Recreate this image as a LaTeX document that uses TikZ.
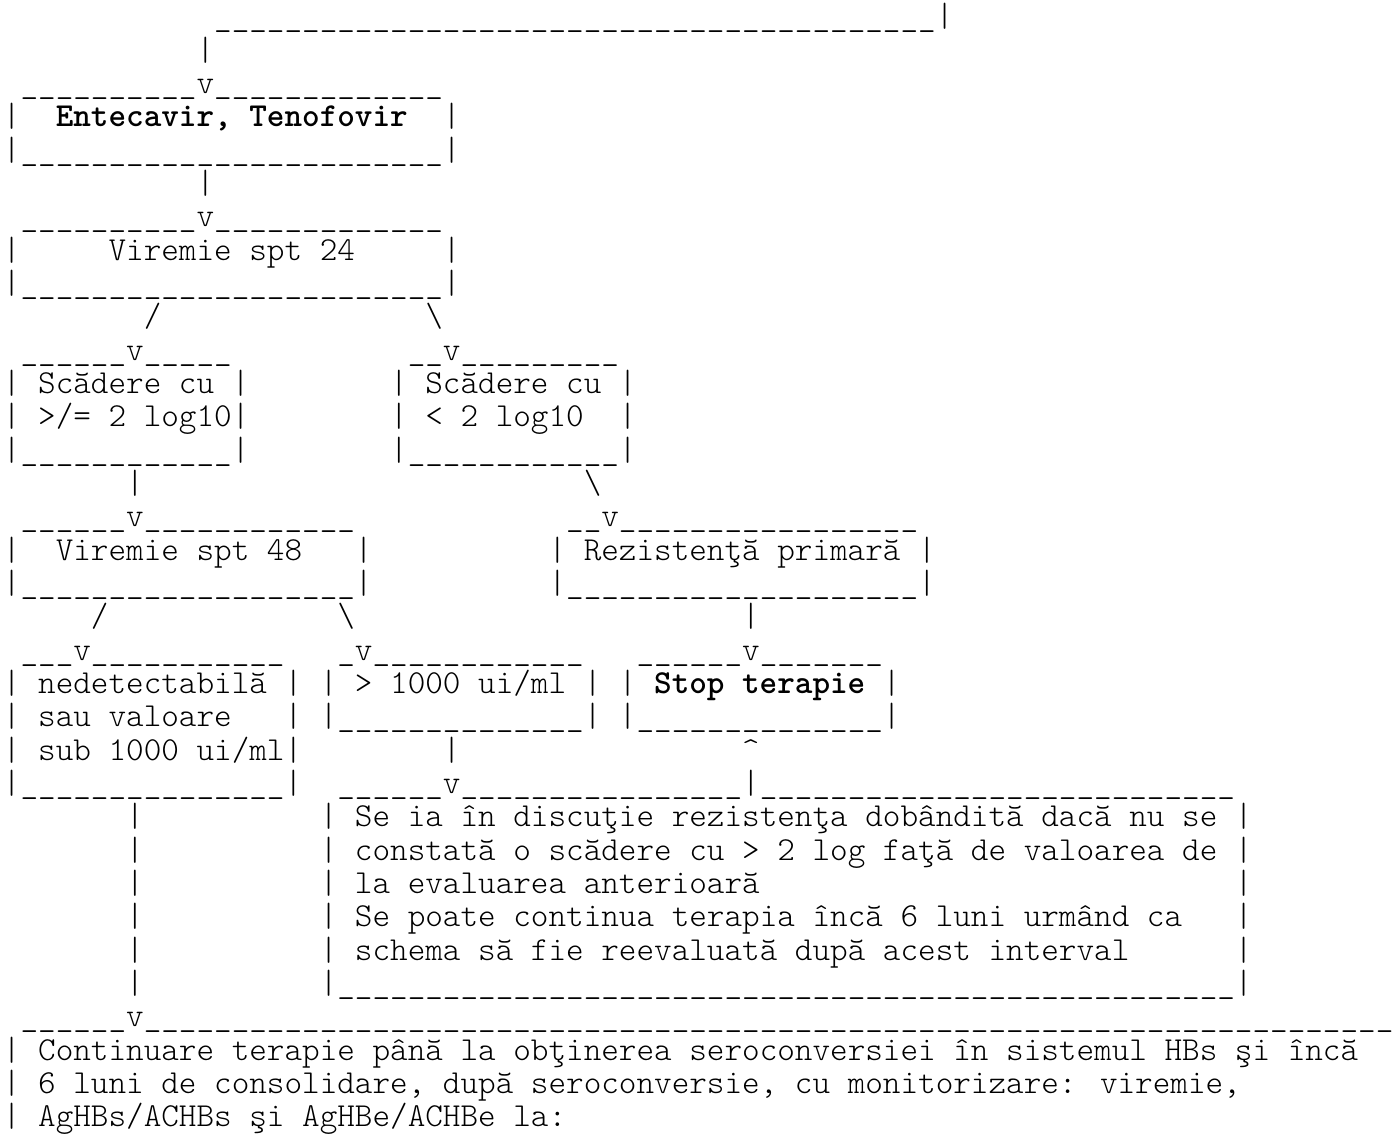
\documentclass[tikz,border=0pt]{standalone}
\usepackage{fontspec}
\newfontfamily\asciifont{lmmonolt10-regular.otf}[BoldFont=lmmonolt10-bold.otf]
\newcommand\sk[1]{\foreach\cnt in {1,...,#1}{\ }}
\newcommand\us[1]{\foreach\cnt in {1,...,#1}{\_}}
\tikzset{row/.style={anchor=base west,inner sep=0pt,outer sep=0pt,font=\asciifont\fontsize{16.762pt}{20pt}\selectfont}}

\begin{document}
\begin{tikzpicture}[x=8.8pt,y=-16.6667pt]
\fill[white] (-0.17,0.19) rectangle (79.32,34.21);
\useasboundingbox (-0.17,0.19) rectangle (79.32,34.21);
\node[row] (r0) at (0,0) {\sk{37}|\sk{30}|};
\node[row] (r1) at (0,1) {\sk{12}\us{41}|};
\node[row] (r2) at (0,2) {\sk{11}|};
\node[row] (r3) at (0,3) {\sk{1}\us{10}v\us{13}};
\node[row] (r4) at (0,4) {|\sk{2}\textbf{Entecavir, Tenofovir}\sk{2}|};
\node[row] (r5) at (0,5) {|\us{24}|};
\node[row] (r6) at (0,6) {\sk{11}|};
\node[row] (r7) at (0,7) {\sk{1}\us{10}v\us{13}};
\node[row] (r8) at (0,8) {|\sk{5}Viremie spt 24\sk{5}|};
\node[row] (r9) at (0,9) {|\us{24}|};
\node[row] (r10) at (0,10) {\sk{8}/\sk{15}\textbackslash};
\node[row] (r11) at (0,11) {\sk{1}\us{6}v\us{5}\sk{10}\us{2}v\us{9}};
\node[row] (r12) at (0,12) {| Scădere cu |\sk{8}| Scădere cu |};
\node[row] (r13) at (0,13) {| >/= 2 log10|\sk{8}| < 2 log10\sk{2}|};
\node[row] (r14) at (0,14) {|\us{12}|\sk{8}|\us{12}|};
\node[row] (r15) at (0,15) {\sk{7}|\sk{25}\textbackslash};
\node[row] (r16) at (0,16) {\sk{1}\us{6}v\us{12}\sk{12}\us{2}v\us{17}};
\node[row] (r17) at (0,17) {|\sk{2}Viremie spt 48\sk{3}|\sk{10}| Rezistenţă primară |};
\node[row] (r18) at (0,18) {|\us{19}|\sk{10}|\us{20}|};
\node[row] (r19) at (0,19) {\sk{5}/\sk{13}\textbackslash\sk{22}|};
\node[row] (r20) at (0,20) {\sk{1}\us{3}v\us{11}\sk{3}\us{1}v\us{12}\sk{3}\us{6}v\us{7}};
\node[row] (r21) at (0,21) {| nedetectabilă | | > 1000 ui/ml | | \textbf{Stop terapie} |};
\node[row] (r22) at (0,22) {| sau valoare\sk{3}| |\us{14}| |\us{14}|};
\node[row] (r23) at (0,23) {| sub 1000 ui/ml|\sk{8}|\sk{16}\textasciicircum};
\node[row] (r24) at (0,24) {|\us{15}|\sk{2}\us{6}v\us{16}|\us{27}};
\node[row] (r25) at (0,25) {\sk{7}|\sk{10}| Se ia în discuţie rezistenţa dobândită dacă nu se |};
\node[row] (r26) at (0,26) {\sk{7}|\sk{10}| constată o scădere cu > 2 log faţă de valoarea de |};
\node[row] (r27) at (0,27) {\sk{7}|\sk{10}| la evaluarea anterioară\sk{27}|};
\node[row] (r28) at (0,28) {\sk{7}|\sk{10}| Se poate continua terapia încă 6 luni urmând ca\sk{3}|};
\node[row] (r29) at (0,29) {\sk{7}|\sk{10}| schema să fie reevaluată după acest interval\sk{6}|};
\node[row] (r30) at (0,30) {\sk{7}|\sk{10}|\us{51}|};
\node[row] (r31) at (0,31) {\sk{1}\us{6}v\us{71}};
\node[row] (r32) at (0,32) {| Continuare terapie până la obţinerea seroconversiei în sistemul HBs şi încă};
\node[row] (r33) at (0,33) {| 6 luni de consolidare, după seroconversie, cu monitorizare: viremie,};
\node[row] (r34) at (0,34) {| AgHBs/ACHBs şi AgHBe/ACHBe la:};
\end{tikzpicture}
\end{document}
